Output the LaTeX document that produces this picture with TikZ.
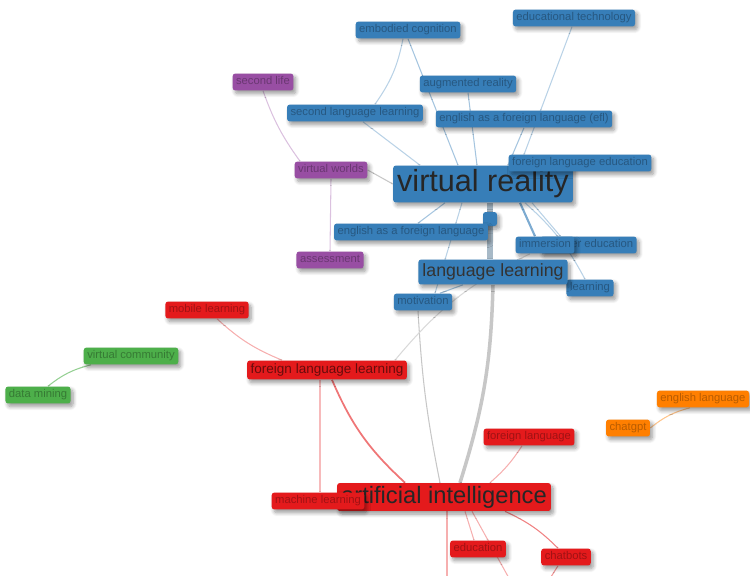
\documentclass[tikz,border=0pt]{standalone}
\usepackage{fontspec}
\setmainfont{Liberation Sans}
\usetikzlibrary{shadows.blur}
\definecolor{vblue}{HTML}{377EB8}
\definecolor{vred}{HTML}{E41A1C}
\definecolor{vgreen}{HTML}{4DAF4A}
\definecolor{vpurple}{HTML}{984EA3}
\definecolor{vorange}{HTML}{FF7F00}
\pgfdeclarelayer{bg}
\pgfsetlayers{bg,main}

\begin{document}
\begin{tikzpicture}[x=0.02cm, y=-0.02cm,
    kw/.style={rounded corners=1.5pt, inner xsep=2pt, inner ysep=0pt,
      minimum height=9.6pt, text height=4.7pt, text depth=1.4pt,
      font=\fontsize{6.4}{7}\selectfont,
      blur shadow={shadow xshift=1.4pt, shadow yshift=-1.8pt,
        shadow blur steps=8, shadow blur radius=2.2pt, shadow opacity=40}},
    bkw/.style={kw, fill=vblue, text=vblue!70!black},
    rkw/.style={kw, fill=vred, text=vred!70!black},
    gkw/.style={kw, fill=vgreen, text=vgreen!70!black},
    pkw/.style={kw, fill=vpurple, text=vpurple!70!black},
    okw/.style={kw, fill=vorange, text=vorange!72!black},
    hugekw/.style={font=\fontsize{17.4}{20}\selectfont, text=black!85,
      text height=12.7pt, text depth=3.7pt, minimum height=21pt, inner xsep=2.3pt},
    bigkw/.style={font=\fontsize{13.5}{16}\selectfont, text=black!85,
      text height=9.9pt, text depth=2.9pt, minimum height=15.9pt, inner xsep=2.3pt},
    midkw/.style={font=\fontsize{10.1}{12}\selectfont, text=black!80,
      text height=7.4pt, text depth=2.2pt, minimum height=14.2pt, inner xsep=2.3pt},
    fllkw/.style={font=\fontsize{7.7}{9}\selectfont, text=vred!45!black,
      text height=5.6pt, text depth=1.7pt, minimum height=10.8pt},
    link/.style={line width=0.6pt},
    blink/.style={link, vblue!45},
    rlink/.style={link, vred!45},
    glink/.style={link, black!22}]
  \useasboundingbox (0,0) rectangle (750,575);

  \node[bkw] (embod) at (408,30) {embodied cognition};
  \node[bkw] (edutech) at (574,18) {educational technology};
  \node[pkw] (seclife) at (263,82) {second life};
  \node[bkw] (augreal) at (468,84) {augmented reality};
  \node[bkw] (seclang) at (355,113) {second language learning};
  \node[bkw] (efl) at (524,119) {english as a foreign language (efl)};
  \node[pkw] (vworlds) at (331,170) {virtual worlds};
  \node[bkw, hugekw] (vr) at (483,184) {virtual reality};
  \node[bkw] (flangedu) at (580,163) {foreign language education};
  \node[bkw, minimum width=0.28cm, minimum height=0.28cm] (vrsq) at (490,219) {};
  \node[bkw] (eflang) at (411,232) {english as a foreign language};
  \node[bkw, anchor=east] (teached) at (637,245) {teacher education};
  \node[bkw] (immers) at (545,245) {immersion};
  \node[pkw] (assess) at (330,260) {assessment};
  \node[bkw] (learn) at (590,288) {learning};
  \node[bkw, midkw] (langlearn) at (493,272) {language learning};
  \node[bkw] (motiv) at (423,302) {motivation};
  \node[rkw] (mobile) at (207,310) {mobile learning};
  \node[gkw] (vcomm) at (131,356) {virtual community};
  \node[rkw, fllkw] (fll) at (327,370) {foreign language learning};
  \node[gkw] (dmining) at (38,395) {data mining};
  \node[okw] (englang) at (703,399) {english language};
  \node[okw] (chatgpt) at (628,428) {chatgpt};
  \node[rkw] (flang) at (529,437) {foreign language};
  \node[rkw, bigkw] (ai) at (444,497) {artificial intelligence};
  \node[rkw] (mlearn) at (318,501) {machine learning};
  \node[rkw] (educ) at (478,549) {education};
  \node[rkw] (chatbots) at (566,557) {chatbots};

  \coordinate (out1) at (447,580);
  \coordinate (out2) at (510,580);
  \coordinate (out3) at (549,580);

  \begin{pgfonlayer}{bg}
    \draw[blink] (embod.south) -- ([shift={(-25,0)}]vr.north);
    \draw[blink, vblue!35] ([shift={(-5,0)}]embod.south) to[bend left=12] ([shift={(20,0)}]seclang.north);
    \draw[blink, vblue!35] ([shift={(-2,0)}]edutech.south) -- ([shift={(37,0)}]vr.north);
    \draw[blink] (augreal.south) -- ([shift={(-6,0)}]vr.north);
    \draw[blink, vblue!35] ([shift={(8,0)}]seclang.south) -- ([shift={(-63,0)}]vr.north);
    \draw[blink] (efl.south) -- ([shift={(25,0)}]vr.north);
    \draw[link, vpurple!35] (seclife.south) to[bend right=8] ([shift={(-31,0)}]vworlds.north);
    \draw[link, vpurple!35] (vworlds.south) -- (assess.north);
    \draw[glink] (vworlds.east) -- (vr.west);
    \draw[line width=3.6pt, vblue!45!gray!55] ([shift={(7,0)}]vr.south) -- ([shift={(-3,0)}]langlearn.north);
    \draw[blink] ([shift={(-38,0)}]vr.south) -- ([shift={(7,0)}]eflang.north);
    \draw[blink, vblue!35] ([shift={(-21,0)}]vr.south) -- ([shift={(12,0)}]motiv.north);
    \draw[blink, line width=1.2pt, vblue!65] ([shift={(37,0)}]vr.south) -- ([shift={(-10,0)}]immers.north);
    \draw[blink, vblue!35] ([shift={(49,0)}]vr.south) -- ([shift={(-28,0)}]teached.north);
    \draw[blink, vblue!35] ([shift={(42,0)}]vr.south) to[bend left=10] ([shift={(-5,0)}]learn.north);
    \draw[blink] ([shift={(-30,0)}]langlearn.south) -- ([shift={(17,0)}]motiv.north);
    \draw[line width=2pt, black!22] (langlearn.south) to[bend left=8] ([shift={(16,0)}]ai.north);
    \draw[glink] ([shift={(-5,0)}]motiv.south) to[bend right=4] ([shift={(-4,0)}]ai.north);
    \draw[glink, black!15] ([shift={(68,0)}]fll.north) to[bend left=12] ([shift={(-15,0)}]immers.south);
    \draw[rlink, vred!35] ([shift={(10,0)}]mobile.south) to[bend right=10] ([shift={(-45,0)}]fll.north);
    \draw[rlink, line width=1pt, vred!60] ([shift={(5,0)}]fll.south) to[bend right=12] ([shift={(-39,0)}]ai.north);
    \draw[rlink, vred!30] ([shift={(-7,0)}]fll.south) -- ([shift={(2,0)}]mlearn.north);
    \draw[rlink, vred!35] ([shift={(-7,0)}]flang.south) to[bend left=8] ([shift={(46,0)}]ai.north);
    \draw[rlink, vred!35] ([shift={(21,0)}]ai.south) -- ([shift={(-4,0)}]educ.north);
    \draw[rlink, vred!35] ([shift={(28,0)}]ai.south) -- (out2);
    \draw[rlink, vred!35] ([shift={(3,0)}]ai.south) -- (out1);
    \draw[rlink, vred!55] ([shift={(61,0)}]ai.south) to[bend left=10] ([shift={(-8,0)}]chatbots.north);
    \draw[rlink, vred!45] ([shift={(-8,0)}]chatbots.south) -- (out3);
    \draw[link, vgreen!60] ([shift={(-40,0)}]vcomm.south) to[bend right=12] ([shift={(10,0)}]dmining.north);
    \draw[link, vorange!45] ([shift={(-13,0)}]englang.south) to[bend right=12] (chatgpt.east);
  \end{pgfonlayer}
\end{tikzpicture}
\end{document}
